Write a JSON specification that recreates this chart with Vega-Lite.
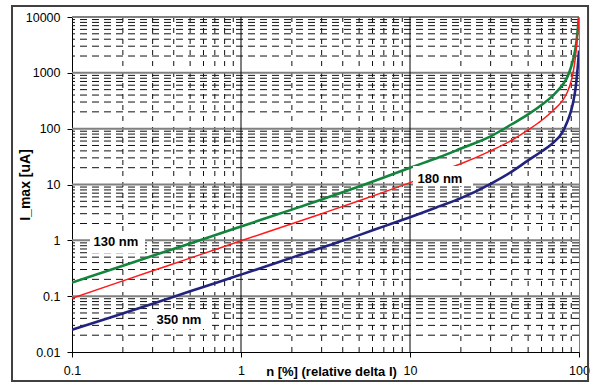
{
  "$schema": "https://vega.github.io/schema/vega-lite/v6.json",
  "width": 507,
  "height": 335,
  "autosize": {"type": "none"},
  "padding": {"left": 72, "top": 17, "right": 13, "bottom": 31},
  "background": "white",
  "config": {
    "view": {"stroke": "#808080", "strokeWidth": 1},
    "font": "Liberation Sans"
  },
  "datasets": {
    "curves": [
      {"series": "130 nm", "n": 0.1, "I": 0.175},
      {"series": "130 nm", "n": 0.2, "I": 0.35},
      {"series": "130 nm", "n": 0.3, "I": 0.53},
      {"series": "130 nm", "n": 0.5, "I": 0.88},
      {"series": "130 nm", "n": 0.7, "I": 1.23},
      {"series": "130 nm", "n": 1, "I": 1.77},
      {"series": "130 nm", "n": 2, "I": 3.55},
      {"series": "130 nm", "n": 3, "I": 5.4},
      {"series": "130 nm", "n": 5, "I": 9.2},
      {"series": "130 nm", "n": 7, "I": 13.3},
      {"series": "130 nm", "n": 10, "I": 20},
      {"series": "130 nm", "n": 15, "I": 31},
      {"series": "130 nm", "n": 20, "I": 44},
      {"series": "130 nm", "n": 30, "I": 73},
      {"series": "130 nm", "n": 40, "I": 120},
      {"series": "130 nm", "n": 50, "I": 180},
      {"series": "130 nm", "n": 60, "I": 265},
      {"series": "130 nm", "n": 70, "I": 390},
      {"series": "130 nm", "n": 80, "I": 610},
      {"series": "130 nm", "n": 85, "I": 820},
      {"series": "130 nm", "n": 90, "I": 1300},
      {"series": "130 nm", "n": 93, "I": 1900},
      {"series": "130 nm", "n": 95, "I": 2600},
      {"series": "130 nm", "n": 97, "I": 4000},
      {"series": "130 nm", "n": 98, "I": 5400},
      {"series": "130 nm", "n": 99, "I": 7500},
      {"series": "130 nm", "n": 100, "I": 10000},
      {"series": "180 nm", "n": 0.1, "I": 0.092},
      {"series": "180 nm", "n": 0.2, "I": 0.188},
      {"series": "180 nm", "n": 0.3, "I": 0.285},
      {"series": "180 nm", "n": 0.5, "I": 0.48},
      {"series": "180 nm", "n": 0.7, "I": 0.68},
      {"series": "180 nm", "n": 1, "I": 0.98},
      {"series": "180 nm", "n": 2, "I": 1.98},
      {"series": "180 nm", "n": 3, "I": 3.0},
      {"series": "180 nm", "n": 5, "I": 5.1},
      {"series": "180 nm", "n": 7, "I": 7.3},
      {"series": "180 nm", "n": 10, "I": 10.8},
      {"series": "180 nm", "n": 15, "I": 17},
      {"series": "180 nm", "n": 20, "I": 23.5},
      {"series": "180 nm", "n": 30, "I": 40},
      {"series": "180 nm", "n": 40, "I": 62},
      {"series": "180 nm", "n": 50, "I": 95},
      {"series": "180 nm", "n": 60, "I": 140},
      {"series": "180 nm", "n": 70, "I": 210},
      {"series": "180 nm", "n": 80, "I": 320},
      {"series": "180 nm", "n": 85, "I": 440},
      {"series": "180 nm", "n": 90, "I": 720},
      {"series": "180 nm", "n": 93, "I": 1150},
      {"series": "180 nm", "n": 95, "I": 1800},
      {"series": "180 nm", "n": 97, "I": 3300},
      {"series": "180 nm", "n": 98, "I": 4800},
      {"series": "180 nm", "n": 99, "I": 7000},
      {"series": "180 nm", "n": 100, "I": 10000},
      {"series": "350 nm", "n": 0.1, "I": 0.025},
      {"series": "350 nm", "n": 0.2, "I": 0.049},
      {"series": "350 nm", "n": 0.3, "I": 0.073},
      {"series": "350 nm", "n": 0.5, "I": 0.122},
      {"series": "350 nm", "n": 0.7, "I": 0.17},
      {"series": "350 nm", "n": 1, "I": 0.243},
      {"series": "350 nm", "n": 2, "I": 0.49},
      {"series": "350 nm", "n": 3, "I": 0.74},
      {"series": "350 nm", "n": 5, "I": 1.24},
      {"series": "350 nm", "n": 7, "I": 1.78},
      {"series": "350 nm", "n": 10, "I": 2.6},
      {"series": "350 nm", "n": 15, "I": 4.1},
      {"series": "350 nm", "n": 20, "I": 5.7},
      {"series": "350 nm", "n": 30, "I": 10.3},
      {"series": "350 nm", "n": 40, "I": 17},
      {"series": "350 nm", "n": 50, "I": 27},
      {"series": "350 nm", "n": 60, "I": 39},
      {"series": "350 nm", "n": 70, "I": 55},
      {"series": "350 nm", "n": 80, "I": 88},
      {"series": "350 nm", "n": 85, "I": 130},
      {"series": "350 nm", "n": 90, "I": 215},
      {"series": "350 nm", "n": 93, "I": 330},
      {"series": "350 nm", "n": 95, "I": 480},
      {"series": "350 nm", "n": 97, "I": 820},
      {"series": "350 nm", "n": 98, "I": 1150},
      {"series": "350 nm", "n": 99, "I": 1650},
      {"series": "350 nm", "n": 100, "I": 2500}
    ],
    "xMinor": [
      {"v": 0.2}, {"v": 0.3}, {"v": 0.4}, {"v": 0.5}, {"v": 0.6}, {"v": 0.7}, {"v": 0.8}, {"v": 0.9},
      {"v": 2}, {"v": 3}, {"v": 4}, {"v": 5}, {"v": 6}, {"v": 7}, {"v": 8}, {"v": 9},
      {"v": 20}, {"v": 30}, {"v": 40}, {"v": 50}, {"v": 60}, {"v": 70}, {"v": 80}, {"v": 90}
    ],
    "yMinor": [
      {"v": 0.02}, {"v": 0.03}, {"v": 0.04}, {"v": 0.05}, {"v": 0.06}, {"v": 0.07}, {"v": 0.08}, {"v": 0.09},
      {"v": 0.2}, {"v": 0.3}, {"v": 0.4}, {"v": 0.5}, {"v": 0.6}, {"v": 0.7}, {"v": 0.8}, {"v": 0.9},
      {"v": 2}, {"v": 3}, {"v": 4}, {"v": 5}, {"v": 6}, {"v": 7}, {"v": 8}, {"v": 9},
      {"v": 20}, {"v": 30}, {"v": 40}, {"v": 50}, {"v": 60}, {"v": 70}, {"v": 80}, {"v": 90},
      {"v": 200}, {"v": 300}, {"v": 400}, {"v": 500}, {"v": 600}, {"v": 700}, {"v": 800}, {"v": 900},
      {"v": 2000}, {"v": 3000}, {"v": 4000}, {"v": 5000}, {"v": 6000}, {"v": 7000}, {"v": 8000}, {"v": 9000}
    ],
    "yMajor": [{"v": 0.1}, {"v": 1}, {"v": 10}, {"v": 100}, {"v": 1000}, {"v": 10000}],
    "xMajor": [{"v": 1}, {"v": 10}],
    "labels": [
      {"label": "130 nm", "tx": 0.182, "ty": 0.933, "bx1": 0.1278, "bx2": 0.2704, "by1": 1.469, "by2": 0.593},
      {"label": "180 nm", "tx": 15.05, "ty": 12.55, "bx1": 10.42, "bx2": 23.6, "by1": 21.45, "by2": 9.4},
      {"label": "350 nm", "tx": 0.4297, "ty": 0.0374, "bx1": 0.2816, "bx2": 0.6378, "by1": 0.0565, "by2": 0.0258}
    ],
    "frame": [{"x1": 0.04416, "x2": 113.1, "y1": 15740, "y2": 0.003024}]
  },
  "layer": [
    {
      "data": {"name": "frame"},
      "mark": {"type": "rect", "fill": null, "fillOpacity": 0, "stroke": "#404040", "strokeWidth": 2, "clip": false},
      "encoding": {
        "x": {"field": "x1", "type": "quantitative", "scale": {"type": "log", "domain": [0.1, 100]}},
        "x2": {"field": "x2"},
        "y": {"field": "y1", "type": "quantitative", "scale": {"type": "log", "domain": [0.01, 10000]}},
        "y2": {"field": "y2"}
      }
    },
    {
      "data": {"name": "xMinor"},
      "mark": {"type": "rule", "color": "#111111", "strokeWidth": 1, "strokeDash": [5, 6]},
      "encoding": {
        "x": {"field": "v", "type": "quantitative", "scale": {"type": "log", "domain": [0.1, 100]}}
      }
    },
    {
      "data": {"name": "yMinor"},
      "mark": {"type": "rule", "color": "#111111", "strokeWidth": 1, "strokeDash": [7, 5]},
      "encoding": {
        "y": {"field": "v", "type": "quantitative", "scale": {"type": "log", "domain": [0.01, 10000]}}
      }
    },
    {
      "data": {"name": "yMajor"},
      "mark": {"type": "rule", "color": "#808080", "strokeWidth": 2},
      "encoding": {
        "y": {"field": "v", "type": "quantitative", "scale": {"type": "log", "domain": [0.01, 10000]}}
      }
    },
    {
      "data": {"name": "xMajor"},
      "mark": {"type": "rule", "color": "#000000", "strokeWidth": 1},
      "encoding": {
        "x": {"field": "v", "type": "quantitative", "scale": {"type": "log", "domain": [0.1, 100]}}
      }
    },
    {
      "data": {"name": "curves"},
      "mark": {"type": "line", "clip": true, "interpolate": "monotone"},
      "encoding": {
        "x": {
          "field": "n", "type": "quantitative",
          "scale": {"type": "log", "domain": [0.1, 100]},
          "axis": {
            "values": [0.1, 1, 10, 100], "format": "~r", "grid": false,
            "domainColor": "#000000", "domainWidth": 1, "tickColor": "#000000", "tickSize": 5,
            "labelFont": "Liberation Sans", "labelFontSize": 12.5, "labelColor": "#000000", "labelPadding": 7,
            "labelFlush": false,
            "title": "n  [%] (relative delta I)", "titleFont": "Liberation Sans", "titleFontSize": 13,
            "titleFontWeight": "bold", "titleColor": "#000000",
            "titleX": 259, "titleY": 19, "titleAlign": "center", "titleBaseline": "middle"
          }
        },
        "y": {
          "field": "I", "type": "quantitative",
          "scale": {"type": "log", "domain": [0.01, 10000]},
          "axis": {
            "values": [0.01, 0.1, 1, 10, 100, 1000, 10000], "format": "~r", "grid": false,
            "domainColor": "#000000", "domainWidth": 1, "tickColor": "#000000", "tickSize": 5,
            "labelFont": "Liberation Sans", "labelFontSize": 12.5, "labelColor": "#000000", "labelPadding": 7,
            "labelFlush": false,
            "title": "I_max [uA]", "titleFont": "Liberation Sans", "titleFontSize": 14,
            "titleFontWeight": "bold", "titleColor": "#000000",
            "titleX": -47, "titleY": 167.5, "titleAngle": 270, "titleAlign": "center", "titleBaseline": "middle"
          }
        },
        "color": {
          "field": "series", "type": "nominal",
          "scale": {"domain": ["130 nm", "180 nm", "350 nm"], "range": ["#12843c", "#ff1a1a", "#22237f"]},
          "legend": null
        },
        "strokeWidth": {
          "condition": {"test": "datum.series === '180 nm'", "value": 1.5},
          "value": 2.6
        }
      }
    },
    {
      "data": {"name": "labels"},
      "mark": {"type": "rect", "fill": "white", "stroke": null},
      "encoding": {
        "x": {"field": "bx1", "type": "quantitative", "scale": {"type": "log", "domain": [0.1, 100]}},
        "x2": {"field": "bx2"},
        "y": {"field": "by1", "type": "quantitative", "scale": {"type": "log", "domain": [0.01, 10000]}},
        "y2": {"field": "by2"}
      }
    },
    {
      "data": {"name": "labels"},
      "mark": {"type": "text", "font": "Liberation Sans", "fontWeight": "bold", "fontSize": 13, "color": "#000000", "align": "center", "baseline": "middle"},
      "encoding": {
        "x": {"field": "tx", "type": "quantitative", "scale": {"type": "log", "domain": [0.1, 100]}},
        "y": {"field": "ty", "type": "quantitative", "scale": {"type": "log", "domain": [0.01, 10000]}},
        "text": {"field": "label"}
      }
    }
  ]
}
